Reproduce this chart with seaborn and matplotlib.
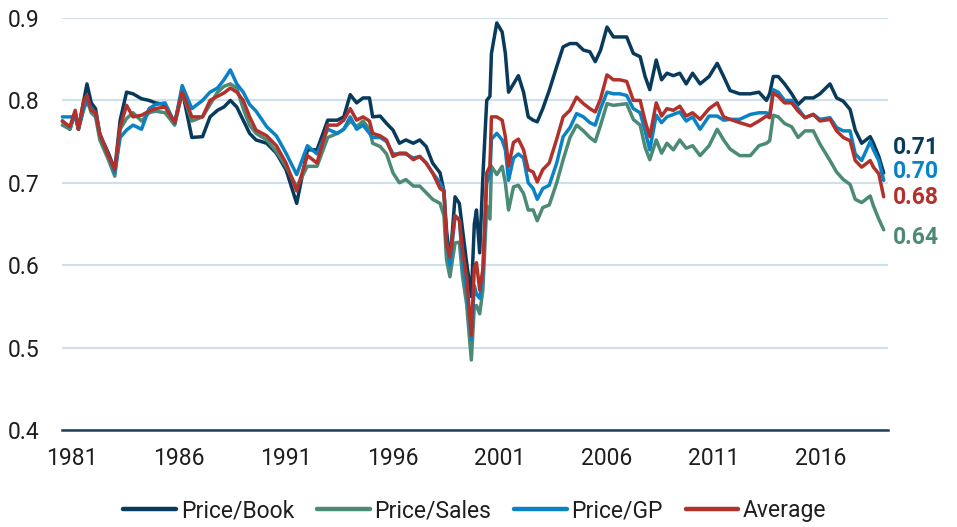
import numpy as np
import pandas as pd
import matplotlib
matplotlib.use("Agg")
import matplotlib.pyplot as plt
import seaborn as sns

# decimal-year dates
dates = [1980.55, 1980.9, 1981.15, 1981.3, 1981.55, 1981.7, 1981.9, 1982.1, 1982.3, 1982.7,
         1983.0, 1983.25, 1983.55, 1983.85, 1984.25, 1984.6, 1984.9, 1985.35, 1985.8, 1986.15,
         1986.6, 1987.1, 1987.45, 1987.8, 1988.1, 1988.4, 1988.7, 1989.0, 1989.3, 1989.6,
         1990.1, 1990.55, 1991.0, 1991.5, 1992.0, 1992.45, 1992.95, 1993.4, 1993.7, 1994.0,
         1994.3, 1994.6, 1994.9, 1995.05, 1995.4, 1995.7, 1996.0, 1996.3, 1996.6, 1996.95,
         1997.25, 1997.55, 1997.85, 1998.2, 1998.38, 1998.5, 1998.66, 1998.9, 1999.1, 1999.25,
         1999.44, 1999.66, 1999.8, 1999.9, 2000.05, 2000.2, 2000.38, 2000.53, 2000.6, 2000.85,
         2001.1, 2001.25, 2001.4, 2001.63, 2001.86, 2002.1, 2002.32, 2002.55, 2002.74, 2003.0,
         2003.3, 2003.65, 2003.95, 2004.27, 2004.58, 2004.9, 2005.2, 2005.45, 2005.7, 2006.0,
         2006.3, 2006.6, 2006.92, 2007.23, 2007.55, 2007.78, 2008.0, 2008.3, 2008.55, 2008.8,
         2009.1, 2009.4, 2009.7, 2010.0, 2010.35, 2010.77, 2011.15, 2011.45, 2011.75, 2012.2,
         2012.7, 2013.1, 2013.45, 2013.6, 2013.77, 2014.0, 2014.3, 2014.63, 2014.93, 2015.25,
         2015.64, 2015.95, 2016.42, 2016.73, 2017.04, 2017.36, 2017.6, 2017.9, 2018.3, 2018.45,
         2018.7, 2018.93]

price_book = [0.775, 0.765, 0.785, 0.765, 0.80, 0.82, 0.797, 0.79, 0.759, 0.736,
              0.716, 0.776, 0.81, 0.808, 0.802, 0.80, 0.797, 0.795, 0.772, 0.812,
              0.755, 0.756, 0.78, 0.788, 0.792, 0.80, 0.792, 0.776, 0.76, 0.752,
              0.748, 0.736, 0.716, 0.675, 0.74, 0.74, 0.776, 0.776, 0.78, 0.807,
              0.797, 0.803, 0.803, 0.78, 0.781, 0.772, 0.764, 0.748, 0.752, 0.748,
              0.752, 0.744, 0.724, 0.712, 0.69, 0.643, 0.603, 0.683, 0.675, 0.643,
              0.603, 0.562, 0.65, 0.667, 0.615, 0.708, 0.80, 0.805, 0.857, 0.894,
              0.883, 0.857, 0.81, 0.82, 0.83, 0.81, 0.78, 0.776, 0.774, 0.79,
              0.812, 0.841, 0.865, 0.869, 0.869, 0.861, 0.859, 0.847, 0.861, 0.889,
              0.877, 0.877, 0.877, 0.857, 0.853, 0.829, 0.813, 0.849, 0.825, 0.833,
              0.83, 0.833, 0.82, 0.833, 0.82, 0.829, 0.845, 0.829, 0.812, 0.808,
              0.808, 0.81, 0.80, 0.808, 0.829, 0.829, 0.82, 0.808, 0.795, 0.803,
              0.803, 0.808, 0.82, 0.803, 0.799, 0.789, 0.764, 0.748, 0.756, 0.748,
              0.732, 0.712]

price_sales = [0.77, 0.765, 0.785, 0.765, 0.79, 0.80, 0.785, 0.78, 0.752, 0.728,
               0.708, 0.765, 0.778, 0.785, 0.775, 0.785, 0.787, 0.785, 0.77, 0.81,
               0.775, 0.78, 0.795, 0.81, 0.817, 0.82, 0.815, 0.79, 0.77, 0.76,
               0.752, 0.738, 0.72, 0.695, 0.72, 0.72, 0.755, 0.76, 0.765, 0.775,
               0.768, 0.775, 0.765, 0.748, 0.744, 0.735, 0.712, 0.70, 0.704, 0.696,
               0.696, 0.688, 0.68, 0.675, 0.66, 0.607, 0.586, 0.627, 0.628, 0.586,
               0.553, 0.485, 0.55, 0.551, 0.541, 0.57, 0.672, 0.656, 0.72, 0.71,
               0.72, 0.70, 0.667, 0.695, 0.697, 0.687, 0.667, 0.667, 0.654, 0.67,
               0.673, 0.70, 0.728, 0.755, 0.77, 0.763, 0.755, 0.75, 0.77, 0.796,
               0.794, 0.795, 0.796, 0.777, 0.77, 0.743, 0.728, 0.752, 0.736, 0.748,
               0.74, 0.752, 0.742, 0.745, 0.733, 0.745, 0.765, 0.752, 0.741, 0.733,
               0.733, 0.745, 0.748, 0.751, 0.782, 0.78, 0.772, 0.768, 0.755, 0.763,
               0.763, 0.747, 0.727, 0.713, 0.704, 0.698, 0.68, 0.676, 0.684, 0.672,
               0.656, 0.643]

price_gp = [0.78, 0.78, 0.78, 0.765, 0.79, 0.80, 0.79, 0.785, 0.759, 0.733,
            0.712, 0.755, 0.764, 0.77, 0.765, 0.79, 0.795, 0.797, 0.772, 0.818,
            0.79, 0.80, 0.81, 0.815, 0.825, 0.837, 0.82, 0.81, 0.795, 0.787,
            0.768, 0.757, 0.736, 0.71, 0.745, 0.735, 0.765, 0.76, 0.765, 0.78,
            0.765, 0.77, 0.76, 0.755, 0.755, 0.75, 0.735, 0.735, 0.735, 0.73,
            0.732, 0.724, 0.712, 0.70, 0.69, 0.63, 0.60, 0.66, 0.655, 0.605,
            0.57, 0.51, 0.575, 0.565, 0.56, 0.59, 0.70, 0.71, 0.753, 0.76,
            0.752, 0.74, 0.703, 0.73, 0.735, 0.73, 0.70, 0.693, 0.68, 0.693,
            0.697, 0.724, 0.756, 0.767, 0.784, 0.78, 0.773, 0.77, 0.79, 0.81,
            0.808, 0.808, 0.806, 0.79, 0.785, 0.763, 0.74, 0.782, 0.773, 0.78,
            0.783, 0.786, 0.775, 0.78, 0.765, 0.781, 0.781, 0.776, 0.777, 0.777,
            0.783, 0.785, 0.785, 0.782, 0.813, 0.81, 0.80, 0.80, 0.79, 0.779,
            0.783, 0.777, 0.779, 0.767, 0.763, 0.763, 0.735, 0.727, 0.75, 0.74,
            0.727, 0.703]

average = [0.775, 0.768, 0.788, 0.765, 0.80, 0.806, 0.788, 0.785, 0.759, 0.733,
           0.716, 0.768, 0.794, 0.78, 0.782, 0.787, 0.79, 0.792, 0.773, 0.81,
           0.78, 0.78, 0.80, 0.805, 0.809, 0.815, 0.81, 0.80, 0.78, 0.764,
           0.757, 0.745, 0.724, 0.69, 0.733, 0.724, 0.77, 0.77, 0.776, 0.79,
           0.776, 0.78, 0.775, 0.76, 0.757, 0.752, 0.732, 0.736, 0.736, 0.728,
           0.732, 0.724, 0.712, 0.693, 0.69, 0.625, 0.61, 0.66, 0.655, 0.618,
           0.586, 0.515, 0.597, 0.603, 0.57, 0.595, 0.712, 0.72, 0.78, 0.78,
           0.776, 0.756, 0.72, 0.749, 0.753, 0.74, 0.716, 0.713, 0.701, 0.716,
           0.724, 0.753, 0.78, 0.788, 0.804, 0.796, 0.79, 0.786, 0.802, 0.831,
           0.825, 0.825, 0.823, 0.80, 0.80, 0.775, 0.756, 0.797, 0.781, 0.79,
           0.788, 0.793, 0.781, 0.785, 0.777, 0.79, 0.797, 0.78, 0.777, 0.773,
           0.769, 0.775, 0.781, 0.779, 0.809, 0.805, 0.797, 0.797, 0.787, 0.779,
           0.783, 0.775, 0.777, 0.763, 0.755, 0.751, 0.727, 0.719, 0.727, 0.719,
           0.711, 0.683]

series_names = ["Price/Book", "Price/Sales", "Price/GP", "Average"]
series_colors = ["#083a5c", "#4b8a74", "#0a82c6", "#b3312b"]
x_tick_years = [1981, 1986, 1991, 1996, 2001, 2006, 2011, 2016]
y_ticks = [0.4, 0.5, 0.6, 0.7, 0.8, 0.9]

frames = []
for name, vals in zip(series_names, [price_book, price_sales, price_gp, average]):
    frames.append(pd.DataFrame({"date": dates, "value": vals, "series": name}))
df = pd.concat(frames, ignore_index=True)

sns.set_theme(style="white")
plt.rcParams["font.family"] = ["Roboto", "DejaVu Sans"]
text_color = "#1e1e1e"
FS = 16.5

W, H = 957, 527
fig = plt.figure(figsize=(W / 100, H / 100), dpi=100)
left_px, right_px, top_px, bottom_px = 62, 888, 18, 430
ax = fig.add_axes([left_px / W, 1 - bottom_px / H,
                   (right_px - left_px) / W, (bottom_px - top_px) / H])

sns.lineplot(data=df, x="date", y="value", hue="series", hue_order=series_names,
             palette=series_colors, linewidth=2.5, ax=ax, legend=True)
for ln in ax.get_lines():
    ln.set_clip_on(False)
    ln.set_solid_joinstyle("round")

# x: 1981 tick sits at pixel 72, 21.4 px per year
px_per_year = 21.4
x0 = 1981 - (72 - left_px) / px_per_year
x1 = 1981 + (right_px - 72) / px_per_year
ax.set_xlim(x0, x1)
ax.set_ylim(0.4, 0.9)
ax.set_xticks(x_tick_years)
ax.set_xticklabels([str(y) for y in x_tick_years])
ax.set_yticks(y_ticks)
ax.set_yticklabels([f"{v:.1f}" for v in y_ticks])
ax.tick_params(axis="both", length=0, labelsize=FS, colors=text_color)
ax.tick_params(axis="x", pad=12)
ax.tick_params(axis="y", pad=16)
ax.set_xlabel("")
ax.set_ylabel("")
ax.grid(axis="y", color="#cfe0ea", linewidth=1.5)
ax.grid(axis="x", visible=False)
for s in ["top", "right", "left"]:
    ax.spines[s].set_visible(False)
ax.spines["bottom"].set_color("#1c3f5c")
ax.spines["bottom"].set_linewidth(1.8)
ax.set_axisbelow(True)

# end labels
end_vals = [price_book[-1], price_gp[-1], average[-1], price_sales[-1]]
end_cols = [series_colors[0], series_colors[2], series_colors[3], series_colors[1]]
end_px_y = [148, 171, 197, 237]
for v, c, py in zip(end_vals, end_cols, end_px_y):
    fig.text(893 / W, 1 - py / H, f"{v:.2f}", color=c, fontsize=FS,
             fontweight="bold", va="center", ha="left")

leg = ax.legend(loc="center", bbox_to_anchor=(0.5, (bottom_px - 511) / (bottom_px - top_px)),
                ncol=4, frameon=False, fontsize=FS, handlelength=2.3,
                handletextpad=0.2, columnspacing=1.0)
for h in leg.legend_handles:
    h.set_linewidth(3.2)
for t in leg.get_texts():
    t.set_color(text_color)

fig.savefig("out.png", dpi=100)
